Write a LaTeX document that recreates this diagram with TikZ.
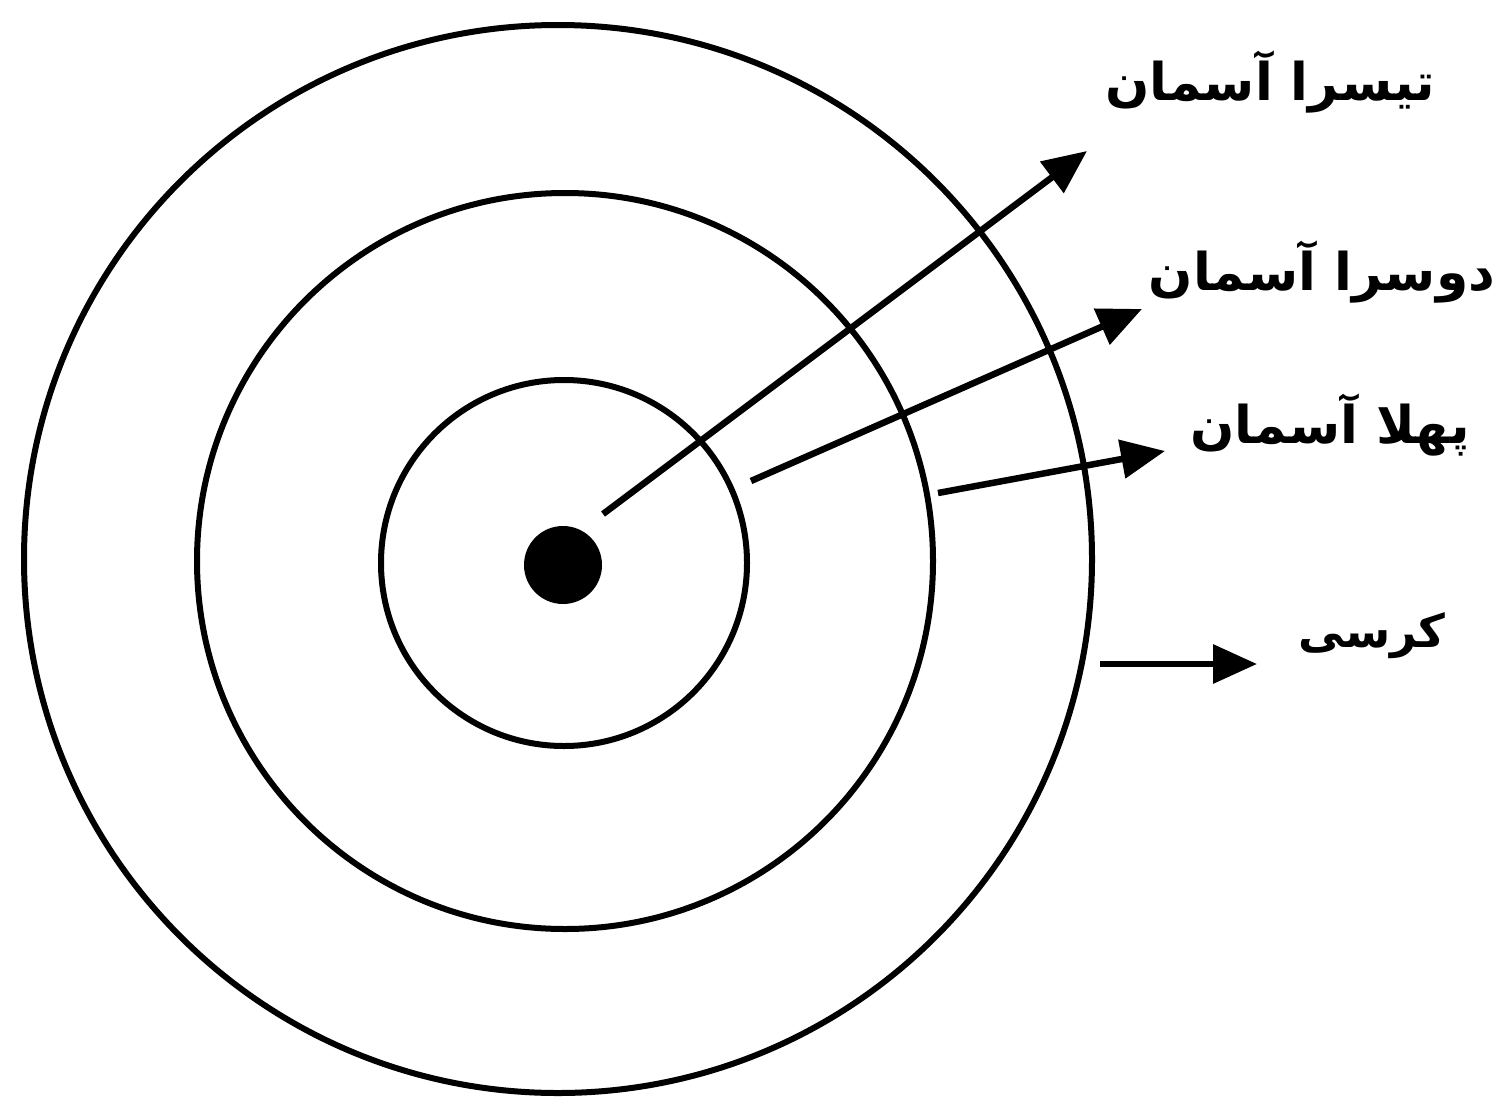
\documentclass[tikz,border=0pt]{standalone}
\usepackage{fontspec}
\newfontfamily\urdufont[Script=Arabic]{DejaVu Sans}
\TeXXeTstate=1
\usetikzlibrary{arrows.meta}
\tikzset{
  ring/.style={circle, draw=black, line width=6pt, inner sep=0pt},
  pointer/.style={line width=6.5pt, -{Triangle[length=44pt,width=38pt]}},
  label/.style={font=\urdufont\bfseries\fontsize{52}{60}\selectfont, inner sep=0pt, anchor=center},
  smalllabel/.style={label, font=\urdufont\bfseries\fontsize{46}{54}\selectfont}
}
\begin{document}
\begin{tikzpicture}[x=1pt,y=-1pt]
\useasboundingbox (0,0) rectangle (1506,1100);
\node[ring, minimum size=1068pt] (outer) at (558,559) {};
\node[ring, minimum size=736pt] (middle) at (565,561) {};
\node[ring, minimum size=366pt] (inner) at (564,563) {};
\node[circle, fill=black, minimum size=78pt, inner sep=0pt] (core) at (563,565) {};

\coordinate (s1) at (603,514);
\coordinate (e1) at (1087,151);
\coordinate (s2) at (751,481);
\coordinate (e2) at (1142,309);
\coordinate (s3) at (938,493);
\coordinate (e3) at (1165,451);
\coordinate (s4) at (1100,664);
\coordinate (e4) at (1257,664);

\draw[pointer] (s1) -- (e1);
\draw[pointer] (s2) -- (e2);
\draw[pointer] (s3) -- (e3);
\draw[pointer] (s4) -- (e4);

\node[label] (t3) at (1270,82) {\beginR تیسرا آسمان\endR};
\node[label] (t2) at (1322,272) {\beginR دوسرا آسمان\endR};
\node[label] (t1) at (1330,425) {\beginR پهلا آسمان\endR};
\node[smalllabel] (t0) at (1372,636) {\beginR کرسی\endR};
\end{tikzpicture}
\end{document}
